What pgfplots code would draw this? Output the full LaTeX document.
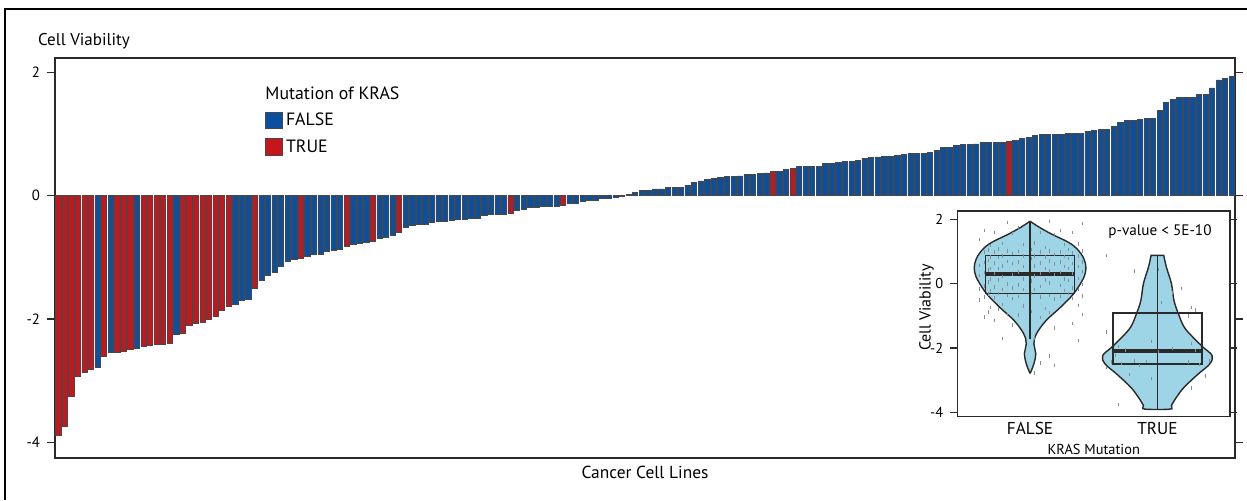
\documentclass[border=0pt]{standalone}
\usepackage{fontspec}
\setmainfont{PT Sans}
\usepackage{pgfplots}
\pgfplotsset{compat=1.18}
\usepackage{pgfplotstable}

\definecolor{barblue}{HTML}{0B4F9F}
\definecolor{barred}{HTML}{C4161C}
\definecolor{bargray}{HTML}{484848}
\definecolor{vio}{HTML}{9DD4E6}
\definecolor{dk}{HTML}{2A2A2A}
\definecolor{jit}{HTML}{8C8C8C}

% idx = position in waterfall, val = cell viability, mut = KRAS mutated (1) or not (0), jit = horizontal jitter in inset
\pgfplotstableread{
idx val mut jit
1 -3.89 1 0.12
2 -3.75 1 -0.31
3 -3.25 1 0.27
4 -2.94 1 -0.05
5 -2.87 1 0.38
6 -2.82 1 -0.22
7 -2.78 0 0.03
8 -2.60 1 -0.40
9 -2.55 0 0.19
10 -2.54 1 -0.14
11 -2.52 1 0.33
12 -2.49 1 -0.28
13 -2.47 0 0.08
14 -2.44 1 -0.36
15 -2.43 1 0.24
16 -2.42 1 -0.09
17 -2.41 1 0.41
18 -2.40 1 -0.18
19 -2.25 0 0.15
20 -2.23 1 -0.33
21 -2.11 1 0.01
22 -2.07 1 0.30
23 -2.06 1 -0.25
24 -2.01 1 0.12
25 -1.96 1 -0.31
26 -1.86 1 0.27
27 -1.79 1 -0.05
28 -1.76 0 0.38
29 -1.70 0 -0.22
30 -1.69 0 0.03
31 -1.50 1 -0.40
32 -1.38 0 0.19
33 -1.29 0 -0.14
34 -1.24 0 0.33
35 -1.14 0 -0.28
36 -1.06 0 0.08
37 -1.04 0 -0.36
38 -1.01 1 0.24
39 -0.98 0 -0.09
40 -0.96 0 0.41
41 -0.95 0 -0.18
42 -0.90 0 0.15
43 -0.88 0 -0.33
44 -0.87 0 0.01
45 -0.82 1 0.30
46 -0.79 0 -0.25
47 -0.77 0 0.12
48 -0.75 0 -0.31
49 -0.74 1 0.27
50 -0.69 0 -0.05
51 -0.68 0 0.38
52 -0.65 0 -0.22
53 -0.59 1 0.03
54 -0.51 0 -0.40
55 -0.48 0 0.19
56 -0.47 0 -0.14
57 -0.46 0 0.33
58 -0.44 0 -0.28
59 -0.42 0 0.08
60 -0.41 0 -0.36
61 -0.40 0 0.24
62 -0.39 0 -0.09
63 -0.38 0 0.41
64 -0.37 0 -0.18
65 -0.36 0 0.15
66 -0.32 0 -0.33
67 -0.31 0 0.01
68 -0.31 0 0.30
69 -0.30 0 -0.25
70 -0.29 1 0.12
71 -0.23 0 -0.31
72 -0.22 0 0.27
73 -0.19 0 -0.05
74 -0.19 0 0.38
75 -0.18 0 -0.22
76 -0.18 0 0.03
77 -0.17 0 -0.40
78 -0.15 1 0.19
79 -0.13 0 -0.14
80 -0.13 0 0.33
81 -0.10 0 -0.28
82 -0.08 0 0.08
83 -0.07 0 -0.36
84 -0.05 0 0.24
85 -0.04 0 -0.09
86 -0.02 0 0.41
87 -0.01 0 -0.18
88 0.02 0 0.15
89 0.05 0 -0.33
90 0.08 0 0.01
91 0.09 0 0.30
92 0.11 0 -0.25
93 0.11 0 0.12
94 0.14 0 -0.31
95 0.14 0 0.27
96 0.14 0 -0.05
97 0.17 0 0.38
98 0.22 0 -0.22
99 0.24 0 0.03
100 0.26 0 -0.40
101 0.28 0 0.19
102 0.29 0 -0.14
103 0.31 0 0.33
104 0.31 0 -0.28
105 0.32 0 0.08
106 0.34 0 -0.36
107 0.35 0 0.24
108 0.36 0 -0.09
109 0.37 0 0.41
110 0.39 1 -0.18
111 0.40 0 0.15
112 0.43 0 -0.33
113 0.44 1 0.01
114 0.47 0 0.30
115 0.48 0 -0.25
116 0.48 0 0.12
117 0.48 0 -0.31
118 0.53 0 0.27
119 0.53 0 -0.05
120 0.54 0 0.38
121 0.55 0 -0.22
122 0.55 0 0.03
123 0.57 0 -0.40
124 0.61 0 0.19
125 0.62 0 -0.14
126 0.63 0 0.33
127 0.64 0 -0.28
128 0.64 0 0.08
129 0.66 0 -0.36
130 0.67 0 0.24
131 0.68 0 -0.09
132 0.68 0 0.41
133 0.69 0 -0.18
134 0.70 0 0.15
135 0.73 0 -0.33
136 0.79 0 0.01
137 0.79 0 0.30
138 0.81 0 -0.25
139 0.83 0 0.12
140 0.83 0 -0.31
141 0.84 0 0.27
142 0.86 0 -0.05
143 0.86 0 0.38
144 0.86 0 -0.22
145 0.86 0 0.03
146 0.88 1 -0.40
147 0.90 0 0.19
148 0.93 0 -0.14
149 0.95 0 0.33
150 0.98 0 -0.28
151 0.99 0 0.08
152 0.99 0 -0.36
153 0.99 0 0.24
154 1.00 0 -0.09
155 1.01 0 0.41
156 1.01 0 -0.18
157 1.01 0 0.15
158 1.05 0 -0.33
159 1.06 0 0.01
160 1.07 0 0.30
161 1.08 0 -0.25
162 1.12 0 0.12
163 1.19 0 -0.31
164 1.22 0 0.27
165 1.22 0 -0.05
166 1.24 0 0.38
167 1.25 0 -0.22
168 1.26 0 0.03
169 1.38 0 -0.40
170 1.51 0 0.19
171 1.56 0 -0.14
172 1.59 0 0.33
173 1.60 0 -0.28
174 1.60 0 0.08
175 1.65 0 -0.36
176 1.65 0 0.24
177 1.75 0 -0.09
178 1.88 0 0.41
179 1.90 0 -0.18
180 1.94 0 0.15
}\cells

\begin{document}
\begin{tikzpicture}
\useasboundingbox (0,0) rectangle (623.5pt,250pt);
\draw[black, line width=1pt] (2.5pt,0pt) -- (2.5pt,245.5pt) -- (623.5pt,245.5pt);

% ---------------- main waterfall ----------------
\begin{axis}[
  at={(27.5pt,21pt)}, anchor=south west, scale only axis,
  width=590pt, height=200pt,
  xmin=0.5, xmax=180.5, ymin=-4.258, ymax=2.235,
  xtick=\empty, ytick={-4,-2,0,2}, yticklabels={-4,-2,0,2},
  tick align=outside, major tick length=4pt,
  every tick/.style={dk, line width=0.6pt},
  axis line style={dk, line width=0.65pt},
  y tick label style={font=\fontsize{7.4}{8}\selectfont},
  ylabel={Cell Viability},
  every axis y label/.style={at={(rel axis cs:0,1)}, anchor=base west, xshift=-12pt, yshift=6pt, font=\fontsize{8.5}{10}\selectfont},
  xlabel={Cancer Cell Lines},
  every axis x label/.style={at={(rel axis cs:0.5,0)}, anchor=base, yshift=-10.25pt, font=\fontsize{8.7}{10}\selectfont},
  legend style={at={(rel axis cs:0.178,0.872)}, anchor=north west, draw=none, fill=none,
     inner sep=0pt, font=\fontsize{8.9}{10}\selectfont, row sep=2.4pt,
     nodes={inner sep=1.6pt}},
  legend cell align=left,
]
\addlegendimage{legend image code/.code={\draw[fill=barblue, draw=bargray, line width=0.5pt] (0pt,-3.9pt) rectangle (8.2pt,4.3pt);}}
\addlegendentry{FALSE}
\addlegendimage{legend image code/.code={\draw[fill=barred, draw=bargray, line width=0.5pt] (0pt,-3.9pt) rectangle (8.2pt,4.3pt);}}
\addlegendentry{TRUE}

\addplot[ybar, bar width=0.8, bar shift=0pt, fill=barblue, draw=bargray, line width=0.35pt,
  restrict expr to domain={\thisrow{mut}}{-0.5:0.5}, forget plot] table[x=idx, y=val] {\cells};
\addplot[ybar, bar width=0.8, bar shift=0pt, fill=barred, draw=bargray, line width=0.35pt,
  restrict expr to domain={\thisrow{mut}}{0.5:1.5}, forget plot] table[x=idx, y=val] {\cells};

\node[anchor=base west, font=\fontsize{8.9}{10}\selectfont, inner sep=0pt] at (rel axis cs:0.178,0.895) {Mutation of KRAS};
\end{axis}

% ---------------- inset violin ----------------
\begin{axis}[
  at={(478.75pt,41.65pt)}, anchor=south west, scale only axis,
  width=136.25pt, height=102.85pt,
  xmin=0.43, xmax=2.57, ymin=-4.137, ymax=2.26,
  xtick={1,2}, xticklabels={FALSE,TRUE},
  ytick={-4,-2,0,2}, yticklabels={-4,-2,0,2},
  tick align=outside, major tick length=3.6pt,
  x tick style={draw=none},
  every tick/.style={dk, line width=0.55pt},
  axis line style={dk, line width=0.6pt},
  y tick label style={font=\fontsize{7.2}{8}\selectfont},
  x tick label style={font=\fontsize{8.6}{10}\selectfont, anchor=base, yshift=-5.2pt},
  xlabel={KRAS Mutation}, ylabel={Cell Viability},
  every axis x label/.style={at={(rel axis cs:0.5,0)}, anchor=base, yshift=-19pt, font=\fontsize{7.2}{8}\selectfont},
  every axis y label/.style={at={(rel axis cs:0,0.53)}, xshift=-13.5pt, rotate=90, anchor=base, font=\fontsize{8}{9}\selectfont},
]
% violins
\addplot[smooth, tension=0.6, fill=vio, draw=dk, line width=0.7pt] coordinates {
 (1,1.94) (1.07,1.76) (1.165,1.55) (1.32,1.24) (1.40,0.93) (1.435,0.62) (1.435,0.36) (1.41,0.10)
 (1.34,-0.32) (1.24,-0.73) (1.125,-1.15) (1.05,-1.56) (1.03,-1.87) (1.045,-2.18) (1.03,-2.49) (1.01,-2.70) (1,-2.78)
 (0.99,-2.70) (0.97,-2.49) (0.955,-2.18) (0.97,-1.87) (0.95,-1.56) (0.875,-1.15) (0.76,-0.73) (0.66,-0.32)
 (0.59,0.10) (0.565,0.36) (0.565,0.62) (0.60,0.93) (0.68,1.24) (0.835,1.55) (0.93,1.76)} -- cycle;
\addplot[smooth, tension=0.6, fill=vio, draw=dk, line width=0.7pt] coordinates {
 (2.05,0.88) (2.07,0.52) (2.11,0.0) (2.13,-0.52) (2.165,-0.94) (2.21,-1.35) (2.28,-1.67) (2.36,-1.98)
 (2.43,-2.24) (2.41,-2.50) (2.32,-2.81) (2.21,-3.22) (2.15,-3.53) (2.11,-3.79) (2.10,-3.90)
 (1.90,-3.90) (1.89,-3.79) (1.85,-3.53) (1.79,-3.22) (1.68,-2.81) (1.59,-2.50) (1.57,-2.24) (1.64,-1.98)
 (1.72,-1.67) (1.79,-1.35) (1.835,-0.94) (1.87,-0.52) (1.89,0.0) (1.93,0.52) (1.95,0.88)} -- cycle;
% jittered points
\addplot[only marks, mark=|, mark size=0.85pt, jit, mark options={line width=0.35pt}]
  table[x expr=\thisrow{mut}+1+\thisrow{jit}, y=val] {\cells};
% whisker lines
\addplot[dk, line width=0.7pt] coordinates {(1,-1.72) (1,1.94)};
\addplot[dk, line width=0.7pt] coordinates {(2,-3.90) (2,0.88)};
% boxes (quartiles)
\addplot[dk, line width=0.7pt] coordinates {(0.65,-0.30) (1.35,-0.30) (1.35,0.87) (0.65,0.87)} -- cycle;
\addplot[dk, line width=0.7pt] coordinates {(1.65,-2.50) (2.35,-2.50) (2.35,-0.91) (1.65,-0.91)} -- cycle;
% medians
\addplot[dk, line width=2.2pt] coordinates {(0.65,0.31) (1.35,0.31)};
\addplot[dk, line width=2.2pt] coordinates {(1.65,-2.09) (2.35,-2.09)};
\node[anchor=base, font=\fontsize{7.6}{9}\selectfont, inner sep=0pt] at (axis cs:2.02,1.50) {p-value < 5E-10};
\end{axis}
\end{tikzpicture}
\end{document}
